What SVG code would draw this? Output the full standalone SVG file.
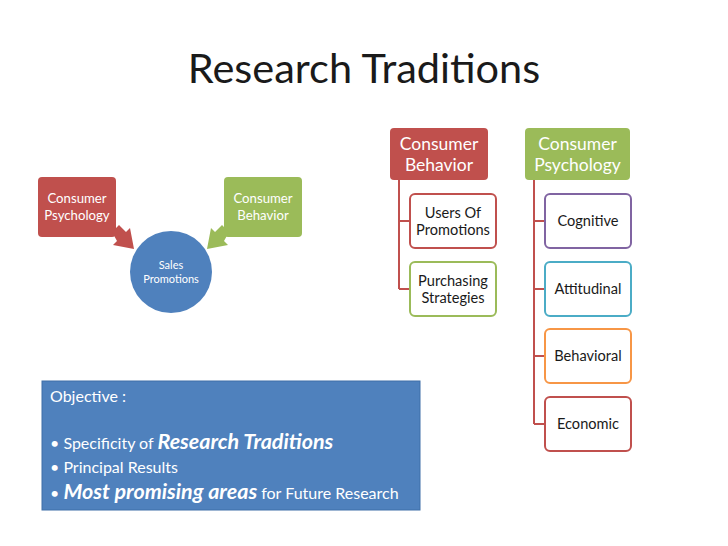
<svg xmlns="http://www.w3.org/2000/svg" width="728" height="546" viewBox="0 0 728 546">
<style>
text{font-family:Lato,"Open Sans","Liberation Sans",sans-serif}
.w{fill:#fff}
.d{fill:#1a1a1a}
.c{text-anchor:middle}
.child{fill:#fff;stroke-width:2}
.bi{font-weight:bold;font-style:italic}
</style>
<rect width="728" height="546" fill="#fff"/>
<text x="364" y="83" class="c" font-size="41.5" fill="#1a1a1a">Research Traditions</text>

<g id="left-psych">
<rect x="38" y="177" width="78" height="60" rx="4" fill="#c0504d"/>
<text x="77" y="203" class="c w" font-size="13.2">Consumer</text>
<text x="77" y="220" class="c w" font-size="13.2">Psychology</text>
</g>
<g id="left-behav">
<rect x="224" y="177" width="78" height="60" rx="4" fill="#9bbb59"/>
<text x="263" y="203" class="c w" font-size="13.2">Consumer</text>
<text x="263" y="220" class="c w" font-size="13.2">Behavior</text>
</g>
<g id="sales">
<circle cx="171" cy="272" r="41" fill="#4f81bd"/>
<text x="171" y="269" class="c w" font-size="11">Sales</text>
<text x="171" y="283" class="c w" font-size="11">Promotions</text>
</g>
<g id="arrows">
<polygon points="112,232 119,225 126,232 130,228 134,249 113,245 117,241" fill="#c0504d"/>
<polygon points="229,232 222,225 215,232 211,228 207,249 228,245 224,241" fill="#9bbb59"/>
</g>

<g id="connectors" fill="none" stroke="#c0504d" stroke-width="2">
<path d="M399 180 V289 M399 221 H410 M399 289 H410"/>
<path d="M534 180 V424 M534 221 H545 M534 289 H545 M534 356 H545 M534 424 H545"/>
</g>

<g id="cb-head">
<rect x="390" y="128" width="98" height="52" rx="4" fill="#c0504d"/>
<text x="439" y="150" class="c w" font-size="17.5">Consumer</text>
<text x="439" y="171" class="c w" font-size="17.5">Behavior</text>
</g>
<g id="cp-head">
<rect x="525" y="128" width="105" height="52" rx="4" fill="#9bbb59"/>
<text x="577.5" y="150" class="c w" font-size="17.5">Consumer</text>
<text x="577.5" y="171" class="c w" font-size="17.5">Psychology</text>
</g>
<g id="users">
<rect x="410" y="194" width="86" height="54" rx="5" class="child" stroke="#c0504d"/>
<text x="453" y="218" class="c d" font-size="14.6">Users Of</text>
<text x="453" y="235" class="c d" font-size="14.6">Promotions</text>
</g>
<g id="purch">
<rect x="410" y="262" width="86" height="54" rx="5" class="child" stroke="#9bbb59"/>
<text x="453" y="286" class="c d" font-size="14.6">Purchasing</text>
<text x="453" y="303" class="c d" font-size="14.6">Strategies</text>
</g>
<g id="cognitive">
<rect x="545" y="194" width="86" height="54" rx="5" class="child" stroke="#8064a2"/>
<text x="588" y="226" class="c d" font-size="14.6">Cognitive</text>
</g>
<g id="attitudinal">
<rect x="545" y="262" width="86" height="54" rx="5" class="child" stroke="#4bacc6"/>
<text x="588" y="294" class="c d" font-size="14.6">Attitudinal</text>
</g>
<g id="behavioral">
<rect x="545" y="329" width="86" height="54" rx="5" class="child" stroke="#f79646"/>
<text x="588" y="361" class="c d" font-size="14.6">Behavioral</text>
</g>
<g id="economic">
<rect x="545" y="397" width="86" height="54" rx="5" class="child" stroke="#c0504d"/>
<text x="588" y="429" class="c d" font-size="14.6">Economic</text>
</g>

<g id="objective">
<rect x="42" y="381" width="378" height="129" fill="#4f81bd" stroke="#3f6fa8" stroke-width="1"/>
<text x="50" y="402" class="w" font-size="16">Objective :</text>
<text x="50" y="449" class="w" font-size="16">• Specificity of <tspan class="bi" font-size="21.5">Research Traditions</tspan></text>
<text x="50" y="473" class="w" font-size="16">• Principal Results</text>
<text x="50" y="499" class="w" font-size="16">• <tspan class="bi" font-size="21.5">Most promising areas</tspan> for Future Research</text>
</g>
</svg>
